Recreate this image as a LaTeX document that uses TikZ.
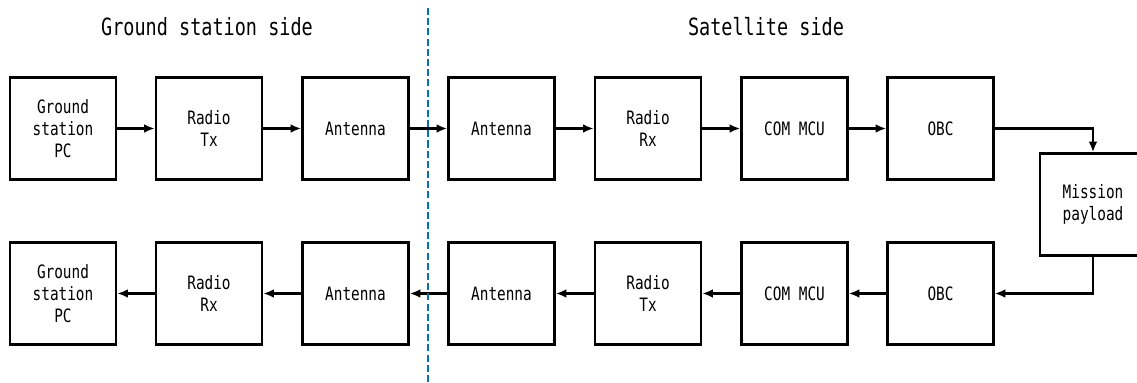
\documentclass[tikz,border=0pt]{standalone}
\usepackage{fontspec}
\usepackage{tikz}
\usetikzlibrary{arrows.meta,calc}
\newfontfamily\gothic[FakeStretch=0.78]{DejaVu Sans Mono}
\definecolor{SplitLine}{RGB}{0,112,192}
\tikzset{
  nd_box/.style={
    rectangle, draw=black, line width=1.5pt, fill=white,
    minimum width=2.12cm, minimum height=2.04cm,
    align=center, inner sep=1pt,
    font=\gothic\fontsize{10.5}{12.5}\selectfont},
  nd_side/.style={font=\gothic\fontsize{13.5}{15}\selectfont},
  arr/.style={-{Latex[length=6pt,width=5pt]},line width=1.3pt},
  split/.style={draw=SplitLine, line width=1.3pt, dash pattern=on 4pt off 1.8pt},
}

\begin{document}
\begin{tikzpicture}[x=1cm,y=1cm]
\useasboundingbox (0,0) rectangle (22.74,-7.66);

\def\yU{-2.57}\def\yD{-5.87}

\node[nd_side] at (4.14,-0.54)  (tG){Ground station side};
\node[nd_side] at (15.32,-0.54) (tS){Satellite side};

\coordinate (dT) at (8.56,-0.16);
\coordinate (dB) at (8.56,-7.66);

%% Uplink
\node[nd_box] at (1.26,\yU)  (U1){Ground\\station\\PC};
\node[nd_box] at (4.18,\yU)  (U2){Radio\\Tx};
\node[nd_box] at (7.11,\yU)  (U3){Antenna};
\node[nd_box] at (10.03,\yU) (U4){Antenna};
\node[nd_box] at (12.96,\yU) (U5){Radio\\Rx};
\node[nd_box] at (15.89,\yU) (U6){COM MCU};
\node[nd_box] at (18.81,\yU) (U7){OBC};

\node[nd_box] at (21.86,-4.09) (P){Mission\\payload};

%% Downlink
\node[nd_box] at (1.26,\yD)  (D1){Ground\\station\\PC};
\node[nd_box] at (4.18,\yD)  (D2){Radio\\Rx};
\node[nd_box] at (7.11,\yD)  (D3){Antenna};
\node[nd_box] at (10.03,\yD) (D4){Antenna};
\node[nd_box] at (12.96,\yD) (D5){Radio\\Tx};
\node[nd_box] at (15.89,\yD) (D6){COM MCU};
\node[nd_box] at (18.81,\yD) (D7){OBC};

\foreach \a/\b in {U1/U2,U2/U3,U3/U4,U4/U5,U5/U6,U6/U7}
  {\draw[arr] (\a)--(\b);}
\foreach \a/\b in {D7/D6,D6/D5,D5/D4,D4/D3,D3/D2,D2/D1}
  {\draw[arr] (\a)--(\b);}
\draw[split] (dT)--(dB);

\draw[arr] (U7.east) -| (P.north);
\draw[arr] (P.south) |- (D7.east);

\end{tikzpicture}
\end{document}
